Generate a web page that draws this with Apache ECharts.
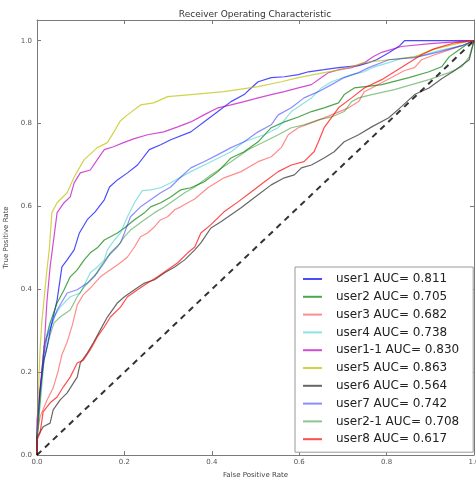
<!DOCTYPE html>
<html>
<head>
<meta charset="utf-8">
<script src="https://cdn.jsdelivr.net/npm/echarts@6/dist/echarts.min.js"></script>
<style>html,body{margin:0;padding:0;background:#fff}#c{width:476px;height:483px}</style>
</head>
<body>
<div id="c"></div>
<script>
const xTicks = [0, 0.2, 0.4, 0.6, 0.8, 1.0];
const yTicks = [0, 0.2, 0.4, 0.6, 0.8, 1.0];

const user1 = [[0,0],[0.002,0.085],[0.007,0.157],[0.016,0.229],[0.023,0.261],[0.034,0.319],[0.046,0.374],[0.057,0.454],[0.069,0.471],[0.085,0.495],[0.097,0.536],[0.115,0.568],[0.133,0.587],[0.154,0.616],[0.166,0.647],[0.184,0.664],[0.207,0.681],[0.23,0.70],[0.257,0.737],[0.283,0.749],[0.306,0.761],[0.352,0.78],[0.382,0.804],[0.414,0.829],[0.444,0.853],[0.474,0.87],[0.49,0.886],[0.506,0.901],[0.536,0.911],[0.566,0.913],[0.598,0.918],[0.621,0.925],[0.657,0.93],[0.69,0.935],[0.736,0.94],[0.759,0.947],[0.777,0.954],[0.805,0.971],[0.83,0.988],[0.841,1.0],[1,1]];
const user2 = [[0,0],[0,0.048],[0.007,0.145],[0.016,0.261],[0.03,0.319],[0.046,0.367],[0.062,0.399],[0.076,0.43],[0.092,0.447],[0.108,0.471],[0.122,0.488],[0.138,0.5],[0.154,0.519],[0.168,0.527],[0.184,0.536],[0.2,0.548],[0.223,0.568],[0.246,0.585],[0.26,0.599],[0.283,0.609],[0.306,0.623],[0.329,0.64],[0.352,0.645],[0.382,0.659],[0.414,0.684],[0.444,0.717],[0.474,0.732],[0.506,0.756],[0.536,0.79],[0.566,0.804],[0.598,0.816],[0.628,0.829],[0.657,0.838],[0.69,0.85],[0.703,0.87],[0.726,0.886],[0.766,0.891],[0.789,0.894],[0.851,0.911],[0.897,0.925],[0.926,0.937],[0.943,0.961],[0.966,0.978],[0.989,0.995],[1,1]];
const user3 = [[0,0],[0,0.048],[0.007,0.092],[0.023,0.133],[0.037,0.162],[0.048,0.201],[0.057,0.242],[0.069,0.273],[0.081,0.314],[0.092,0.362],[0.106,0.387],[0.122,0.403],[0.145,0.43],[0.168,0.447],[0.191,0.464],[0.207,0.478],[0.223,0.502],[0.237,0.527],[0.253,0.536],[0.269,0.551],[0.283,0.568],[0.299,0.575],[0.315,0.592],[0.329,0.599],[0.345,0.609],[0.361,0.618],[0.391,0.645],[0.428,0.669],[0.467,0.684],[0.506,0.708],[0.536,0.72],[0.559,0.742],[0.575,0.773],[0.598,0.79],[0.634,0.804],[0.674,0.821],[0.713,0.838],[0.736,0.853],[0.749,0.877],[0.766,0.886],[0.811,0.911],[0.841,0.928],[0.864,0.935],[0.88,0.954],[0.91,0.966],[0.943,0.978],[0.972,0.988],[1,1]];
const user4 = [[0,0],[0,0.036],[0.007,0.133],[0.016,0.261],[0.03,0.319],[0.053,0.357],[0.076,0.382],[0.099,0.391],[0.122,0.44],[0.138,0.454],[0.154,0.471],[0.161,0.495],[0.177,0.519],[0.191,0.536],[0.207,0.575],[0.223,0.609],[0.241,0.638],[0.26,0.64],[0.283,0.645],[0.306,0.657],[0.352,0.684],[0.398,0.708],[0.444,0.732],[0.474,0.756],[0.52,0.773],[0.552,0.79],[0.582,0.829],[0.628,0.862],[0.651,0.886],[0.674,0.901],[0.72,0.918],[0.749,0.925],[0.772,0.937],[0.805,0.947],[0.834,0.957],[0.88,0.964],[0.92,0.976],[0.972,0.988],[1,1]];
const user1_1 = [[0,0],[0,0.085],[0.007,0.157],[0.011,0.205],[0.016,0.254],[0.023,0.374],[0.03,0.454],[0.039,0.527],[0.046,0.585],[0.062,0.609],[0.076,0.623],[0.085,0.657],[0.099,0.681],[0.122,0.688],[0.138,0.713],[0.154,0.737],[0.175,0.744],[0.198,0.754],[0.221,0.763],[0.253,0.773],[0.29,0.78],[0.322,0.792],[0.352,0.804],[0.382,0.821],[0.414,0.838],[0.444,0.845],[0.474,0.853],[0.506,0.862],[0.536,0.87],[0.566,0.877],[0.598,0.886],[0.628,0.894],[0.651,0.911],[0.667,0.923],[0.69,0.93],[0.72,0.935],[0.749,0.947],[0.77,0.962],[0.789,0.972],[0.834,0.986],[0.9,0.993],[1,1]];
const user5 = [[0,0],[0.002,0.1],[0.005,0.2],[0.007,0.254],[0.011,0.32],[0.016,0.374],[0.022,0.44],[0.028,0.495],[0.034,0.585],[0.046,0.609],[0.069,0.633],[0.085,0.671],[0.108,0.713],[0.138,0.742],[0.161,0.754],[0.175,0.778],[0.191,0.807],[0.207,0.821],[0.237,0.845],[0.267,0.85],[0.299,0.865],[0.352,0.87],[0.428,0.877],[0.506,0.889],[0.559,0.901],[0.598,0.911],[0.657,0.923],[0.697,0.93],[0.749,0.947],[0.805,0.954],[0.864,0.961],[0.903,0.978],[0.949,0.99],[0.984,0.998],[1,1]];
const user6 = [[0,0],[0,0.043],[0.014,0.068],[0.03,0.077],[0.037,0.109],[0.053,0.133],[0.069,0.15],[0.092,0.188],[0.099,0.222],[0.115,0.246],[0.129,0.271],[0.145,0.302],[0.161,0.333],[0.184,0.367],[0.2,0.382],[0.223,0.399],[0.246,0.415],[0.269,0.423],[0.292,0.44],[0.315,0.454],[0.338,0.471],[0.361,0.495],[0.375,0.512],[0.398,0.548],[0.421,0.563],[0.467,0.597],[0.506,0.628],[0.536,0.652],[0.566,0.669],[0.589,0.676],[0.605,0.693],[0.628,0.70],[0.657,0.717],[0.68,0.732],[0.703,0.756],[0.736,0.773],[0.766,0.792],[0.805,0.814],[0.834,0.841],[0.864,0.87],[0.897,0.886],[0.926,0.908],[0.956,0.928],[0.989,0.954],[1,1]];
const user7 = [[0,0],[0,0.06],[0.007,0.157],[0.016,0.242],[0.023,0.285],[0.046,0.35],[0.069,0.391],[0.092,0.399],[0.115,0.415],[0.138,0.44],[0.154,0.464],[0.168,0.488],[0.191,0.512],[0.2,0.536],[0.214,0.575],[0.237,0.599],[0.26,0.616],[0.283,0.633],[0.306,0.647],[0.329,0.671],[0.352,0.693],[0.382,0.708],[0.414,0.725],[0.444,0.742],[0.474,0.756],[0.506,0.78],[0.536,0.797],[0.552,0.821],[0.582,0.838],[0.611,0.862],[0.644,0.877],[0.674,0.894],[0.703,0.911],[0.736,0.923],[0.759,0.935],[0.805,0.954],[0.864,0.959],[0.92,0.973],[0.972,0.988],[1,1]];
const user2_1 = [[0,0],[0,0.036],[0.007,0.121],[0.016,0.229],[0.03,0.29],[0.039,0.319],[0.053,0.333],[0.076,0.35],[0.092,0.382],[0.108,0.406],[0.131,0.43],[0.145,0.454],[0.161,0.478],[0.184,0.502],[0.2,0.527],[0.214,0.543],[0.246,0.568],[0.269,0.585],[0.292,0.599],[0.315,0.616],[0.338,0.633],[0.361,0.647],[0.398,0.676],[0.444,0.708],[0.483,0.737],[0.52,0.756],[0.552,0.773],[0.582,0.79],[0.611,0.797],[0.644,0.809],[0.674,0.816],[0.703,0.829],[0.72,0.853],[0.736,0.862],[0.766,0.87],[0.818,0.882],[0.897,0.906],[0.943,0.923],[0.972,0.937],[0.989,0.961],[1,1]];
const user8 = [[0,0],[0,0.036],[0.007,0.053],[0.014,0.104],[0.03,0.126],[0.046,0.14],[0.06,0.164],[0.076,0.188],[0.092,0.222],[0.106,0.229],[0.122,0.254],[0.138,0.285],[0.154,0.309],[0.168,0.333],[0.191,0.357],[0.207,0.382],[0.23,0.399],[0.253,0.415],[0.276,0.43],[0.299,0.447],[0.322,0.464],[0.345,0.488],[0.361,0.502],[0.375,0.536],[0.398,0.556],[0.428,0.587],[0.46,0.611],[0.49,0.635],[0.52,0.659],[0.552,0.684],[0.582,0.70],[0.611,0.708],[0.634,0.732],[0.644,0.756],[0.657,0.79],[0.69,0.838],[0.72,0.862],[0.749,0.886],[0.789,0.906],[0.818,0.925],[0.851,0.947],[0.88,0.966],[0.91,0.981],[0.956,0.995],[1,1]];
const diagonal = [[0,0],[1,1]];

const names = ['user1 AUC= 0.811','user2 AUC= 0.705','user3 AUC= 0.682','user4 AUC= 0.738','user1-1 AUC= 0.830','user5 AUC= 0.863','user6 AUC= 0.564','user7 AUC= 0.742','user2-1 AUC= 0.708','user8 AUC= 0.617'];
const datasets = [user1, user2, user3, user4, user1_1, user5, user6, user7, user2_1, user8];
const colors = ['#0000ff','#008000','#ff0000','#00bfbf','#bf00bf','#bfbf00','#000000','#0000ff','#008000','#ff0000'];
const opac = [0.7,0.7,0.45,0.45,0.7,0.7,0.6,0.45,0.45,0.7];

const FONT = 'DejaVu Sans';
const fmt = v => v.toFixed(1);

const series = datasets.map((d, i) => ({
  name: names[i], type: 'line', data: d, showSymbol: false, symbol: 'none',
  animation: false, silent: true,
  lineStyle: { color: colors[i], width: 1.2, opacity: opac[i] },
  itemStyle: { color: colors[i], opacity: opac[i] }
}));
series.push({
  name: 'diag', type: 'line', data: diagonal, showSymbol: false, symbol: 'none', animation: false, silent: true,
  lineStyle: { color: '#000', width: 2, type: [6, 5], opacity: 0.8 }
});

const axisCommon = {
  type: 'value', splitLine: { show: false },
  axisLine: { show: true, onZero: false, lineStyle: { color: '#7a7a7a', width: 1 } }
};

const chart = echarts.init(document.getElementById('c'), null, { renderer: 'canvas' });
chart.setOption({
  backgroundColor: '#fff',
  animation: false,
  title: {
    text: 'Receiver Operating Characteristic', left: 255, top: 10, padding: 0, textAlign: 'center',
    textStyle: { fontFamily: FONT, fontSize: 9, fontWeight: 'normal', color: '#333' }
  },
  grid: { left: 37, top: 20, width: 437, height: 435, containLabel: false, outerBoundsMode: 'none' },
  legend: {
    data: names, orient: 'vertical', left: 295, top: 267,
    padding: [5, 14, 6, 8], itemGap: 3.8, itemWidth: 19, itemHeight: 2, icon: 'rect',
    borderColor: '#999', borderWidth: 1, backgroundColor: '#fff',
    selectedMode: false,
    textStyle: { fontFamily: FONT, fontSize: 12, color: '#222', lineHeight: 14, padding: [0, 0, 0, 9] }
  },
  xAxis: [
    Object.assign({}, axisCommon, {
      min: 0, max: 1, interval: 0.2, position: 'bottom',
      axisTick: { show: true, inside: true, length: 4, customValues: xTicks, lineStyle: { color: '#7a7a7a' } },
      axisLabel: { customValues: xTicks, formatter: fmt, fontFamily: FONT, fontSize: 7, color: '#555', margin: 4 },
      name: 'False Positive Rate', nameLocation: 'middle', nameGap: 17,
      nameTextStyle: { fontFamily: FONT, fontSize: 7, color: '#444' }
    }),
    Object.assign({}, axisCommon, {
      min: 0, max: 1, interval: 0.2, position: 'top',
      axisTick: { show: true, inside: true, length: 4, customValues: xTicks, lineStyle: { color: '#7a7a7a' } },
      axisLabel: { show: false }
    })
  ],
  yAxis: [
    Object.assign({}, axisCommon, {
      min: 0, max: 1.05, interval: 0.2, position: 'left',
      axisTick: { show: true, inside: true, length: 4, customValues: yTicks, lineStyle: { color: '#7a7a7a' } },
      axisLabel: { customValues: yTicks, formatter: fmt, fontFamily: FONT, fontSize: 7, color: '#555', margin: 5 },
      name: 'True Positive Rate', nameLocation: 'middle', nameGap: 26,
      nameTextStyle: { fontFamily: FONT, fontSize: 7, color: '#444' }
    }),
    Object.assign({}, axisCommon, {
      min: 0, max: 1.05, interval: 0.2, position: 'right',
      axisTick: { show: true, inside: true, length: 4, customValues: yTicks, lineStyle: { color: '#7a7a7a' } },
      axisLabel: { show: false }
    })
  ],
  series: series
});
</script>
</body>
</html>
